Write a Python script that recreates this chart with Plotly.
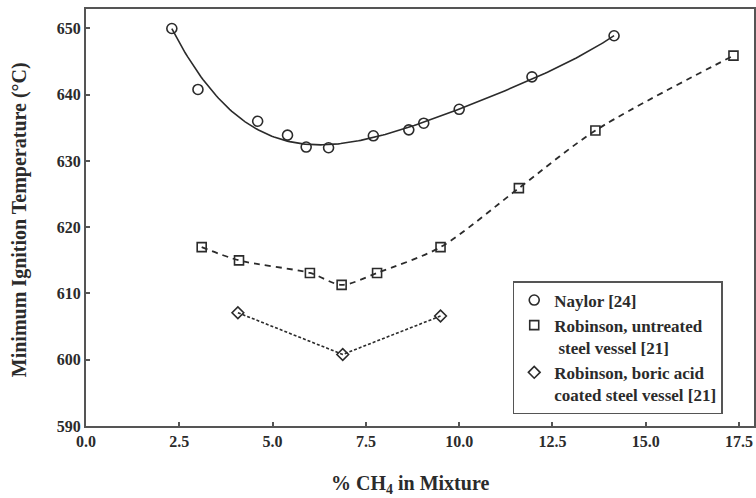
import numpy as np
import plotly.graph_objects as go

# Naylor [24]
naylor_ch4 = [2.3, 3.0, 4.6, 5.4, 5.9, 6.5, 7.7, 8.65, 9.05, 10.0, 11.95, 14.15]
naylor_temp = [650.0, 640.8, 636.0, 633.9, 632.1, 632.0, 633.8, 634.7, 635.7, 637.8, 642.7, 648.9]

# Robinson, untreated steel vessel [21]
rob_untreated_ch4 = [3.1, 4.1, 6.0, 6.85, 7.8, 9.5, 11.6, 13.65, 17.35]
rob_untreated_temp = [617.0, 615.0, 613.1, 611.3, 613.1, 617.0, 625.9, 634.6, 645.9]

# Robinson, boric acid coated steel vessel [21]
rob_boric_ch4 = [4.07, 6.88, 9.5]
rob_boric_temp = [607.1, 600.8, 606.6]

x_ticks = [0.0, 2.5, 5.0, 7.5, 10.0, 12.5, 15.0, 17.5]
y_ticks = [590, 600, 610, 620, 630, 640, 650]

INK = "#2b2b2b"
SERIF = "Liberation Serif"

fig = go.Figure()

# smooth trend fitted to the Naylor measurements (end points weighted up)
weights = np.ones(len(naylor_ch4))
weights[0] = 8.0
weights[-1] = 3.0
coef = np.polyfit(naylor_ch4, naylor_temp, 4, w=weights)
fit_x = np.linspace(min(naylor_ch4), max(naylor_ch4), 200)
fit_y = np.polyval(coef, fit_x)
fig.add_trace(go.Scatter(x=fit_x, y=fit_y, mode="lines",
                         line=dict(color=INK, width=1.6), showlegend=False,
                         hoverinfo="skip"))

fig.add_trace(go.Scatter(x=rob_untreated_ch4, y=rob_untreated_temp, mode="lines",
                         line=dict(color=INK, width=1.8, dash="6px,5px",
                                   shape="spline", smoothing=0.8),
                         showlegend=False, hoverinfo="skip"))

fig.add_trace(go.Scatter(x=rob_boric_ch4, y=rob_boric_temp, mode="lines",
                         line=dict(color=INK, width=1.6, dash="3px,2px"),
                         showlegend=False, hoverinfo="skip"))

marker_line = dict(color=INK, width=1.6)
fig.add_trace(go.Scatter(x=naylor_ch4, y=naylor_temp, mode="markers",
                         name="<b>Naylor [24]</b>",
                         marker=dict(symbol="circle-open", size=10, color=INK,
                                     line=marker_line)))
fig.add_trace(go.Scatter(x=rob_untreated_ch4, y=rob_untreated_temp, mode="markers",
                         name="<b>Robinson, untreated<br> steel vessel [21]</b>",
                         marker=dict(symbol="square-open", size=9, color=INK,
                                     line=marker_line)))
fig.add_trace(go.Scatter(x=rob_boric_ch4, y=rob_boric_temp, mode="markers",
                         name="<b>Robinson, boric acid<br>coated steel vessel [21]</b>",
                         marker=dict(symbol="diamond-open", size=9, color=INK,
                                     line=marker_line)))

axis_common = dict(showline=True, linecolor="#555555", linewidth=2, mirror=True,
                   ticks="inside", ticklen=4, tickwidth=1.5, tickcolor="#555555",
                   showgrid=False, zeroline=False,
                   tickfont=dict(family=SERIF, size=16, color=INK))

fig.update_xaxes(range=[0, 17.9], tickvals=x_ticks,
                 ticktext=[f"<b>{v:.1f}</b>" for v in x_ticks], **axis_common)
fig.update_yaxes(range=[590, 652.94], tickvals=y_ticks,
                 ticktext=[f"<b>{v}</b>" for v in y_ticks], **axis_common)

fig.update_layout(
    width=756, height=498,
    margin=dict(l=86, r=0, t=9, b=72),
    paper_bgcolor="white", plot_bgcolor="white",
    showlegend=True,
    legend=dict(x=(514 - 86) / 670, y=(426 - 281) / 417, xanchor="left", yanchor="top",
                bgcolor="white", bordercolor="#555555", borderwidth=1.5,
                font=dict(family=SERIF, size=17, color=INK),
                itemwidth=30, tracegroupgap=0, valign="top"),
    annotations=[
        dict(text="<b>% CH<sub>4</sub> in Mixture</b>", xref="paper", yref="paper",
             x=(411 - 86) / 670, y=-(484 - 426) / 417, xanchor="center", yanchor="middle",
             showarrow=False,
             font=dict(family=SERIF, size=20, color=INK)),
        dict(text="<b>Minimum Ignition Temperature (°C)</b>", xref="paper", yref="paper",
             x=-(86 - 20) / 670, y=(426 - 220) / 417, xanchor="center", yanchor="middle",
             textangle=-90, showarrow=False,
             font=dict(family=SERIF, size=20, color=INK)),
    ],
)

fig.write_html("out.html")
